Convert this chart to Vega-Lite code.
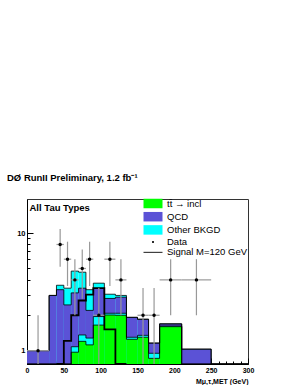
{
  "$schema": "https://vega.github.io/schema/vega-lite/v6.json",
  "width": 221,
  "height": 165,
  "autosize": {"type": "none"},
  "padding": {"left": 27, "top": 199, "right": 50, "bottom": 21},
  "background": "white",
  "title": {"text": "DØ RunII Preliminary, 1.2 fb⁻¹", "anchor": "start", "frame": "group", "dx": -20, "offset": 8, "baseline": "alphabetic", "fontSize": 9.5, "fontWeight": "bold", "font": "Liberation Sans", "color": "black"},
  "datasets": {
    "hist": [
      {"i": 0, "x0": 0, "x1": 30, "green": 0, "low": 0, "qcd": 1.0, "tot": 1.0, "sig": 0},
      {"i": 1, "x0": 30, "x1": 40, "green": 0, "low": 0, "qcd": 2.95, "tot": 2.95, "sig": 0},
      {"i": 2, "x0": 40, "x1": 50, "green": 0, "low": 0, "qcd": 3.3, "tot": 3.6, "sig": 0},
      {"i": 3, "x0": 50, "x1": 60, "green": 0, "low": 0, "qcd": 2.45, "tot": 3.4, "sig": 1.21},
      {"i": 4, "x0": 60, "x1": 70, "green": 0.97, "low": 1.08, "qcd": 3.1, "tot": 4.75, "sig": 2.0},
      {"i": 5, "x0": 70, "x1": 80, "green": 1.2, "low": 1.36, "qcd": 3.4, "tot": 4.65, "sig": 2.67},
      {"i": 6, "x0": 80, "x1": 90, "green": 1.12, "low": 1.28, "qcd": 2.2, "tot": 3.3, "sig": 3.0},
      {"i": 7, "x0": 90, "x1": 105, "green": 1.65, "low": 1.95, "qcd": 3.38, "tot": 3.75, "sig": 3.4},
      {"i": 8, "x0": 105, "x1": 120, "green": 2.01, "low": 2.08, "qcd": 2.78, "tot": 3.02, "sig": 1.52},
      {"i": 9, "x0": 120, "x1": 135, "green": 2.0, "low": 2.08, "qcd": 2.85, "tot": 2.95, "sig": 0},
      {"i": 10, "x0": 135, "x1": 150, "green": 1.25, "low": 1.3, "qcd": 1.92, "tot": 1.92, "sig": 0},
      {"i": 11, "x0": 150, "x1": 165, "green": 1.3, "low": 1.35, "qcd": 1.85, "tot": 1.85, "sig": 0},
      {"i": 12, "x0": 165, "x1": 180, "green": 0.86, "low": 0.95, "qcd": 1.16, "tot": 1.16, "sig": 0},
      {"i": 13, "x0": 180, "x1": 210, "green": 1.6, "low": 1.62, "qcd": 1.69, "tot": 1.69, "sig": 0},
      {"i": 14, "x0": 210, "x1": 250, "green": 0, "low": 0, "qcd": 1.03, "tot": 1.03, "sig": 0},
      {"i": 15, "x0": 250, "x1": 300, "green": 0, "low": 0, "qcd": 0, "tot": 0, "sig": 0}
    ],
    "pts": [
      {"c": 15, "xlo": 0, "xhi": 30, "n": 1, "elo": 0, "ehi": 2},
      {"c": 45, "xlo": 40, "xhi": 50, "n": 8, "elo": 5.17, "ehi": 10.83},
      {"c": 55, "xlo": 50, "xhi": 60, "n": 6, "elo": 3.55, "ehi": 8.45},
      {"c": 65, "xlo": 60, "xhi": 70, "n": 4, "elo": 2, "ehi": 6},
      {"c": 75, "xlo": 70, "xhi": 80, "n": 5, "elo": 2.76, "ehi": 7.24},
      {"c": 85, "xlo": 80, "xhi": 90, "n": 6, "elo": 3.55, "ehi": 8.45},
      {"c": 97.5, "xlo": 90, "xhi": 105, "n": 2, "elo": 0.59, "ehi": 3.41},
      {"c": 112.5, "xlo": 105, "xhi": 120, "n": 6, "elo": 3.55, "ehi": 8.45},
      {"c": 127.5, "xlo": 120, "xhi": 135, "n": 4, "elo": 2, "ehi": 6},
      {"c": 157.5, "xlo": 150, "xhi": 165, "n": 2, "elo": 0.59, "ehi": 3.41},
      {"c": 172.5, "xlo": 165, "xhi": 180, "n": 2, "elo": 0.59, "ehi": 3.41},
      {"c": 195, "xlo": 180, "xhi": 210, "n": 4, "elo": 2, "ehi": 6},
      {"c": 230, "xlo": 210, "xhi": 250, "n": 4, "elo": 2, "ehi": 6}
    ],
    "leg": [
      {"name": "tt̄ → incl"},
      {"name": "QCD"},
      {"name": "Other BKGD"},
      {"name": "Data"},
      {"name": "Signal M=120 GeV"}
    ]
  },
  "encoding": {
    "x": {"type": "quantitative", "title": "Mμ,τ,MET (GeV)",
      "scale": {"domain": [0, 300], "nice": false},
      "axis": {"values": [0,10,20,30,40,50,60,70,80,90,100,110,120,130,140,150,160,170,180,190,200,210,220,230,240,250,260,270,280,290,300],
        "labelExpr": "datum.value % 50 == 0 ? toString(datum.value) : ''",
        "tickSize": {"condition": {"test": "datum.value % 50 == 0", "value": -6}, "value": -3},
        "labelPadding": 8.5, "labelFlush": false, "labelFontSize": 7,
        "titleAnchor": "end", "titleAlign": "right", "titleX": 221, "titleY": 19, "titleBaseline": "alphabetic", "titleFontSize": 7, "titleFontWeight": "bold"}},
    "y": {"type": "quantitative", "title": "All Tau Types",
      "scale": {"type": "log", "domain": [0.77, 19.5], "clamp": true, "nice": false},
      "axis": {"values": [1,2,3,4,5,6,7,8,9,10],
        "labelExpr": "datum.value == 1 ? '1' : datum.value == 10 ? '10' : ''",
        "tickSize": {"condition": {"test": "datum.value == 1 || datum.value == 10", "value": -6}, "value": -3},
        "labelPadding": 8,
        "titleAngle": 0, "titleX": 2, "titleY": 11, "titleAlign": "left", "titleBaseline": "alphabetic", "titleFontSize": 9.5, "titleFontWeight": "bold"}}
  },
  "layer": [
    {
      "data": {"name": "hist"},
      "mark": {"type": "rect", "color": "#00ffff"},
      "encoding": {"x": {"field": "x0"}, "x2": {"field": "x1"}, "y": {"field": "tot"}, "y2": {"datum": 0}}
    },
    {
      "data": {"name": "hist"},
      "mark": {"type": "rect", "color": "#5b52d6"},
      "encoding": {"x": {"field": "x0"}, "x2": {"field": "x1"}, "y": {"field": "qcd"}, "y2": {"datum": 0}}
    },
    {
      "data": {"name": "hist"},
      "mark": {"type": "rect", "color": "#00ffff"},
      "encoding": {"x": {"field": "x0"}, "x2": {"field": "x1"}, "y": {"field": "low"}, "y2": {"datum": 0}}
    },
    {
      "data": {"name": "hist"},
      "mark": {"type": "rect", "color": "#00ff00"},
      "encoding": {"x": {"field": "x0"}, "x2": {"field": "x1"}, "y": {"field": "green"}, "y2": {"datum": 0}}
    },
    {
      "data": {"name": "hist"},
      "transform": [
        {"fold": ["tot", "qcd", "low", "green"], "as": ["layer", "v"]},
        {"fold": ["x0", "x1"], "as": ["edge", "xx"]}
      ],
      "mark": {"type": "line", "color": "black", "strokeWidth": 0.8},
      "encoding": {
        "x": {"field": "xx"},
        "y": {"field": "v"},
        "detail": {"field": "layer"},
        "order": [{"field": "i", "type": "quantitative"}, {"field": "edge", "type": "nominal"}]
      }
    },
    {
      "data": {"name": "hist"},
      "transform": [
        {"filter": "datum.i >= 2 && datum.i <= 9"},
        {"fold": ["x0", "x1"], "as": ["edge", "xx"]}
      ],
      "mark": {"type": "line", "color": "black", "strokeWidth": 1.8},
      "encoding": {
        "x": {"field": "xx"},
        "y": {"field": "sig"},
        "order": [{"field": "i", "type": "quantitative"}, {"field": "edge", "type": "nominal"}]
      }
    },
    {
      "data": {"name": "pts"},
      "mark": {"type": "rule", "color": "#999999", "strokeWidth": 1.2},
      "encoding": {"x": {"field": "c"}, "y": {"field": "elo"}, "y2": {"field": "ehi"}}
    },
    {
      "data": {"name": "pts"},
      "mark": {"type": "rule", "color": "#999999", "strokeWidth": 1.2},
      "encoding": {"x": {"field": "xlo"}, "x2": {"field": "xhi"}, "y": {"field": "n"}}
    },
    {
      "data": {"name": "pts"},
      "mark": {"type": "circle", "color": "black", "size": 12, "opacity": 1},
      "encoding": {"x": {"field": "c"}, "y": {"field": "n"}}
    },
    {
      "data": {"name": "leg"},
      "mark": {"type": "point", "filled": true, "opacity": 0},
      "encoding": {
        "x": {"datum": 150},
        "y": {"datum": 1},
        "color": {"field": "name", "type": "nominal", "title": null,
          "scale": {"domain": ["tt̄ → incl", "QCD", "Other BKGD", "Data", "Signal M=120 GeV"], "range": ["#00ff00", "#5b52d6", "#00ffff", "black", "black"]}},
        "shape": {"field": "name", "type": "nominal", "title": null,
          "scale": {"domain": ["tt̄ → incl", "QCD", "Other BKGD", "Data", "Signal M=120 GeV"],
            "range": ["M-1.9,-0.95L1.9,-0.95L1.9,0.95L-1.9,0.95Z", "M-1.9,-0.95L1.9,-0.95L1.9,0.95L-1.9,0.95Z", "M-1.9,-0.95L1.9,-0.95L1.9,0.95L-1.9,0.95Z", "M-0.2,0A0.2,0.2 0 1,0 0.2,0A0.2,0.2 0 1,0 -0.2,0Z", "M-1.9,-0.09L1.9,-0.09L1.9,0.09L-1.9,0.09Z"]}}
      }
    }
  ],
  "config": {
    "view": {"stroke": "#333333", "strokeWidth": 1},
    "font": "Liberation Sans",
    "axis": {"grid": false, "domainColor": "black", "domainWidth": 1, "tickColor": "black", "tickWidth": 1, "labelFont": "Liberation Sans", "labelFontWeight": "bold", "labelFontSize": 7.5, "labelColor": "black", "titleFont": "Liberation Sans", "titleColor": "black"},
    "legend": {"orient": "none", "legendX": 120.5, "legendY": -1, "padding": 0, "symbolSize": 100, "symbolStrokeColor": "black", "symbolStrokeWidth": 0.8, "symbolOpacity": 1, "labelFont": "Liberation Sans", "labelFontSize": 9.5, "labelColor": "black", "labelOffset": 8.5, "rowPadding": 0.2, "labelLimit": 200}
  }
}
